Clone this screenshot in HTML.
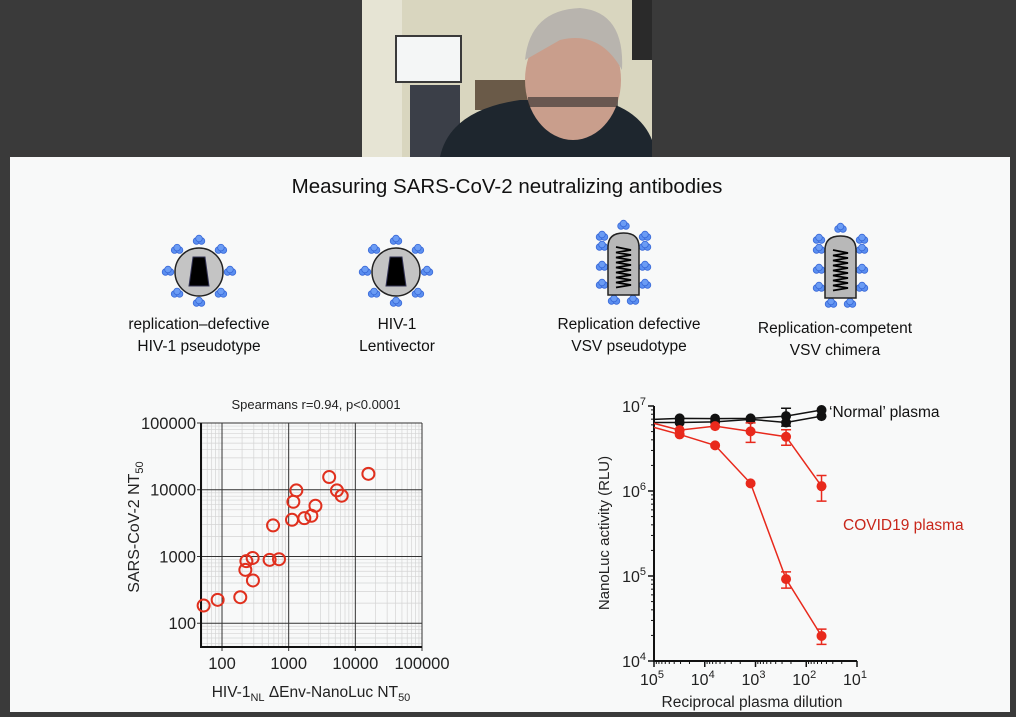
<!DOCTYPE html>
<html><head><meta charset="utf-8"><style>
html,body{margin:0;padding:0;background:#3a3a3a;}
svg{display:block;font-family:"Liberation Sans",sans-serif;}
</style></head><body>
<svg id="s" width="1016" height="717" viewBox="0 0 1016 717" xmlns="http://www.w3.org/2000/svg">
<rect x="0" y="0" width="1016" height="717" fill="#3a3a3a"/>
<g>
 <rect x="362" y="0" width="290" height="157" fill="#d9d6bf"/>
 <rect x="362" y="0" width="40" height="157" fill="#e6e4d4"/>
 <rect x="395" y="35" width="67" height="48" fill="#3a3a3a"/>
 <rect x="397" y="37" width="63" height="44" fill="#f4f6f6"/>
 <rect x="475" y="80" width="80" height="30" fill="#6a5a48"/>
 <rect x="410" y="85" width="50" height="72" fill="#3b3f48"/>
 <rect x="632" y="0" width="20" height="60" fill="#2a2a2a"/>
 <path d="M440 157 Q450 110 520 100 L600 100 Q640 110 652 140 L652 157 Z" fill="#1e262e"/>
 <ellipse cx="573" cy="80" rx="48" ry="60" fill="#c99e8c"/>
 <path d="M525 60 Q530 10 580 8 Q625 12 622 70 Q600 30 560 40 Z" fill="#b8b4ae"/>
 <rect x="528" y="97" width="90" height="10" fill="#2a2828" opacity="0.6"/>
</g>
<rect x="10" y="157" width="1000" height="555" fill="#f8f9f9"/>
<text x="507" y="193" text-anchor="middle" font-size="20.5" fill="#111">Measuring SARS-CoV-2 neutralizing antibodies</text>
<g id="icons"></g>
<g font-size="15.5" fill="#111" text-anchor="middle">
 <text x="199" y="329">replication–defective</text>
 <text x="199" y="351">HIV-1 pseudotype</text>
 <text x="397" y="329">HIV-1</text>
 <text x="397" y="351">Lentivector</text>
 <text x="629" y="329">Replication defective</text>
 <text x="629" y="351">VSV pseudotype</text>
 <text x="835" y="333">Replication-competent</text>
 <text x="835" y="355">VSV chimera</text>
</g>
<g id="left"></g>
<g id="right"></g>
</svg>
<script>
// ---- left scatter data ----
const hivNT50 = [53,86,188,224,232,288,291,518,716,583,1122,1175,1303,1718,2188,2520,4050,5300,6240,15700];
const sarsNT50 = [184,224,245,630,850,950,437,890,910,2920,3548,6600,9770,3750,4070,5750,15500,9770,8130,17300];
const leftXTicks = [100,1000,10000,100000];
const leftYTicks = [100,1000,10000,100000];
// ---- right dose-response data ----
const dilutions = [100000,31250,6250,1250,250,50];
const normalA = [6.97e6,7.15e6,7.1e6,7.15e6,7.6e6,8.97e6];
const normalB = [6.4e6,6.4e6,6.5e6,6.97e6,6.4e6,7.6e6];
const covidA = [5.6e6,4.63e6,3.44e6,1.23e6,9.2e4,1.97e4];
const covidB = [6.25e6,5.2e6,5.8e6,5.03e6,4.35e6,1.14e6];
const covidAErr = [0,0,0,0,0.2e5,0.4e4];
const covidBErr = [0,0,0,1.3e6,0.9e6,0.38e6];
const normalAErr = [0,0,0,0,1.8e6,0];
const rightXTicks = [5,4,3,2,1];
const rightYTicks = [7,6,5,4];

const NS="http://www.w3.org/2000/svg";
function mk(tag,attrs,parent){const e=document.createElementNS(NS,tag);for(const k in attrs)e.setAttribute(k,attrs[k]);parent.appendChild(e);return e;}

// icons
const icons=document.getElementById('icons');
function spike(cx,cy,g){
  mk('circle',{cx:cx-2.5,cy:cy,r:3.3,fill:'#5b8ff0',stroke:'#3a6ad8','stroke-width':0.8},g);
  mk('circle',{cx:cx+2.5,cy:cy,r:3.3,fill:'#5b8ff0',stroke:'#3a6ad8','stroke-width':0.8},g);
  mk('circle',{cx:cx,cy:cy-2.5,r:3.3,fill:'#6b9cf4',stroke:'#3a6ad8','stroke-width':0.8},g);
}
[[199,'hiv-pseudotype-icon'],[396,'lentivector-icon']].forEach(([cx,nm])=>{
  const g=mk('g',{},icons);
  
  
  const cy=272;
  for(let i=0;i<8;i++){const a=(i*45-90)*Math.PI/180;spike(cx+31*Math.cos(a),cy+31*Math.sin(a),g);}
  mk('circle',{cx:cx,cy:cy,r:24,fill:'#c4c4c4',stroke:'#222','stroke-width':1.5},g);
  mk('path',{d:`M${cx-6} ${cy-15} L${cx+6} ${cy-15} L${cx+10} ${cy+14} L${cx-10} ${cy+14} Z`,fill:'#000',stroke:'#335','stroke-width':1},g);
});
[[608,233,'vsv-pseudotype-icon'],[825,236,'vsv-chimera-icon']].forEach(([x,y,nm])=>{
  const g=mk('g',{},icons);
  
  
  const w=31,h=62;
  [[x+w/2,y-7],[x-6,y+4],[x+w+6,y+4]].forEach(p=>spike(p[0],p[1],g));
  [y+14,y+34,y+52].forEach(yy=>{spike(x-6,yy,g);spike(x+w+6,yy,g);});
  spike(x+6,y+h+6,g);spike(x+w-6,y+h+6,g);
  mk('path',{d:`M${x} ${y+h} L${x} ${y+14} Q${x} ${y} ${x+w/2} ${y} Q${x+w} ${y} ${x+w} ${y+14} L${x+w} ${y+h} Z`,fill:'#b8b8b8',stroke:'#222','stroke-width':1.5},g);
  let d=`M${x+8} ${y+14}`;for(let i=0;i<8;i++){d+=` L${x+w-8} ${y+17+i*5} L${x+8} ${y+19.5+i*5}`;}
  mk('path',{d:d,fill:'none',stroke:'#000','stroke-width':1.8},g);
});

// ---- left chart ----
const L=document.getElementById('left');
const lx0=201,lx1=422,ly0=647,ly1=423;
const lxmin=Math.log10(48.4),lxmax=5,lymin=Math.log10(44),lymax=5;
const lX=v=>lx0+(Math.log10(v)-lxmin)/(lxmax-lxmin)*(lx1-lx0);
const lY=v=>ly0-(Math.log10(v)-lymin)/(lymax-lymin)*(ly0-ly1);
for(let d=1;d<=5;d++)for(let m=1;m<10;m++){
  const v=m*Math.pow(10,d);
  if(Math.log10(v)>lxmin&&Math.log10(v)<=lxmax&&m>1){const l=mk('line',{x1:lX(v),x2:lX(v),y1:ly1,y2:ly0,stroke:'#d4d4d4','stroke-width':0.7},L);}
  if(Math.log10(v)>lymin&&Math.log10(v)<=lymax&&m>1){const l=mk('line',{x1:lx0,x2:lx1,y1:lY(v),y2:lY(v),stroke:'#d4d4d4','stroke-width':0.7},L);}
}
leftXTicks.forEach(v=>{
  const l=mk('line',{x1:lX(v),x2:lX(v),y1:ly1,y2:ly0+4,stroke:'#333','stroke-width':1},L);
  
  const t=mk('text',{x:lX(v),y:669,'text-anchor':'middle','font-size':16.5,fill:'#222'},L);t.textContent=v;
  
});
leftYTicks.forEach(v=>{
  const l=mk('line',{x1:lx0-4,x2:lx1,y1:lY(v),y2:lY(v),stroke:'#333','stroke-width':1},L);
  
  const t=mk('text',{x:lx0-5,y:lY(v)+6,'text-anchor':'end','font-size':16.5,fill:'#222'},L);t.textContent=v;
  
});
let ax=mk('path',{d:`M${lx0} ${ly1} L${lx0} ${ly0} L${lx1} ${ly0}`,fill:'none',stroke:'#111','stroke-width':2},L);

hivNT50.forEach((v,i)=>{
  const c=mk('circle',{cx:lX(v),cy:lY(sarsNT50[i]),r:6,fill:'none',stroke:'#e0301e','stroke-width':2},L);
  
});
let t=mk('text',{x:316,y:409,'text-anchor':'middle','font-size':13,fill:'#222'},L);t.textContent='Spearmans r=0.94, p<0.0001';

t=mk('text',{x:0,y:0,'text-anchor':'middle','font-size':16,fill:'#222',transform:'translate(139,527) rotate(-90)'},L);
t.innerHTML='SARS-CoV-2 NT<tspan font-size="11" dy="4">50</tspan>';

t=mk('text',{x:311,y:697,'text-anchor':'middle','font-size':15.5,fill:'#222'},L);
t.innerHTML='HIV-1<tspan font-size="11" dy="4">NL</tspan><tspan dy="-4"> ΔEnv-NanoLuc NT</tspan><tspan font-size="11" dy="4">50</tspan>';


// ---- right chart ----
const R=document.getElementById('right');
const rx0=654,rx1=857,ry0=661,ry1=406;
const rX=v=>rx0+(5-Math.log10(v))/4*(rx1-rx0);
const rY=v=>ry0-(Math.log10(v)-4)/3*(ry0-ry1);
for(let d=1;d<5;d++)for(let m=2;m<10;m++){
  const xx=rX(m*Math.pow(10,d));
  const l=mk('line',{x1:xx,x2:xx,y1:ry0,y2:ry0+3,stroke:'#111','stroke-width':1},R);
  
}
for(let d=4;d<7;d++)for(let m=2;m<10;m++){
  const yy=rY(m*Math.pow(10,d));
  const l=mk('line',{x1:rx0-3,x2:rx0,y1:yy,y2:yy,stroke:'#111','stroke-width':1},R);
  
}
rightXTicks.forEach(p=>{
  const xx=rX(Math.pow(10,p));
  const l=mk('line',{x1:xx,x2:xx,y1:ry0,y2:ry0+6,stroke:'#111','stroke-width':1.5},R);
  
  const tt=mk('text',{x:xx-2,y:685,'text-anchor':'middle','font-size':16,fill:'#222'},R);
  tt.innerHTML='10<tspan font-size="11" dy="-7">'+p+'</tspan>';
  
});
rightYTicks.forEach(p=>{
  const yy=rY(Math.pow(10,p));
  const l=mk('line',{x1:rx0-6,x2:rx0,y1:yy,y2:yy,stroke:'#111','stroke-width':1.5},R);
  
  const tt=mk('text',{x:rx0-8,y:yy+6,'text-anchor':'end','font-size':16,fill:'#222'},R);
  tt.innerHTML='10<tspan font-size="11" dy="-7">'+p+'</tspan>';
  
});
ax=mk('path',{d:`M${rx0} ${ry1} L${rx0} ${ry0} L${rx1} ${ry0}`,fill:'none',stroke:'#111','stroke-width':2},R);

function series(vals,errs,color,nm){
  const g=mk('g',{},R);
  
  mk('polyline',{points:vals.map((v,i)=>rX(dilutions[i])+','+rY(v)).join(' '),fill:'none',stroke:color,'stroke-width':1.5},g);
  vals.forEach((v,i)=>{
    if(i===0)return;
    const x=rX(dilutions[i]);
    if(errs[i]>0){
      const y1=rY(v+errs[i]),y2=rY(Math.max(v-errs[i],1));
      mk('path',{d:`M${x} ${y1} L${x} ${y2} M${x-5} ${y1} L${x+5} ${y1} M${x-5} ${y2} L${x+5} ${y2}`,stroke:color,'stroke-width':1.5,fill:'none'},g);
    }
    const c=mk('circle',{cx:x,cy:rY(v),r:5,fill:color},g);
    
  });
}
series(normalB,[0,0,0,0,0,0],'#111','normal-plasma-b');
series(normalA,normalAErr,'#111','normal-plasma-a');
series(covidB,covidBErr,'#e8291c','covid-plasma-b');
series(covidA,covidAErr,'#e8291c','covid-plasma-a');
t=mk('text',{x:829,y:417,'font-size':15.5,fill:'#111'},R);t.textContent='‘Normal’ plasma';

t=mk('text',{x:843,y:530,'font-size':15.5,fill:'#c8261a'},R);t.textContent='COVID19 plasma';

t=mk('text',{x:0,y:0,'text-anchor':'middle','font-size':15,fill:'#222',transform:'translate(609,533) rotate(-90)'},R);t.textContent='NanoLuc activity (RLU)';

t=mk('text',{x:752,y:707,'text-anchor':'middle','font-size':15.5,fill:'#222'},R);t.textContent='Reciprocal plasma dilution';

</script>
</body></html>
